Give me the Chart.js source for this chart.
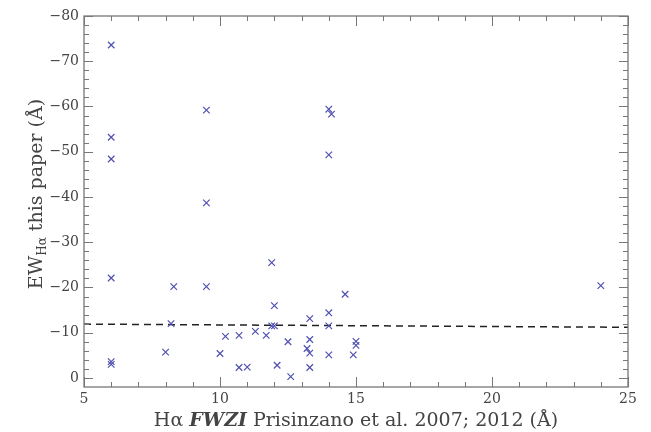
<!DOCTYPE html>
<html>
<head>
<meta charset="utf-8">
<script src="https://cdn.jsdelivr.net/npm/chart.js@4"></script>
<style>
  html, body { margin: 0; padding: 0; background: #fff; }
  #wrap { width: 651px; height: 432px; }
</style>
</head>
<body>
<div id="wrap"><canvas id="ewChart"></canvas></div>
<script>
// FWZI from Prisinzano et al. (x) vs EW Halpha this paper (y)
const fwzi = [6, 6, 6, 6, 6, 6, 9.5, 9.5, 9.5, 14, 14, 14.1,
  8, 8.2, 8.3, 10, 10.2, 10.7, 10.7, 11, 11.3, 11.7, 11.9, 11.9, 12, 12, 12.1,
  12.5, 12.6, 13.2, 13.3, 13.3, 13.3, 13.3, 14, 14, 14, 14.6, 14.9, 15, 15, 24];
const ewHa = [-73.6, -53.2, -48.4, -22.1, -3.6, -3.0, -59.2, -38.7, -20.2, -59.4, -49.3, -58.3,
  -5.7, -12.0, -20.2, -5.4, -9.2, -9.4, -2.3, -2.4, -10.3, -9.4, -25.5, -11.5, -11.5, -16.0, -2.8,
  -8.0, -0.3, -6.5, -13.1, -8.5, -5.5, -2.3, -14.4, -11.5, -5.1, -18.5, -5.1, -8.1, -7.2, -20.4];
// dashed fit line end points
const fitX = [5, 25];
const fitY = [-11.9, -11.2];

const xTicks = [5, 10, 15, 20, 25];
const yTicks = [-80, -70, -60, -50, -40, -30, -20, -10, 0];

const serif = '"DejaVu Serif", "Liberation Serif", serif';

// inward ticks on all four sides + frame + mixed-style axis titles
const framePlugin = {
    id: 'frame',
    afterDraw(chart) {
        const ctx = chart.ctx;
        const a = chart.chartArea;
        const xs = chart.scales.x, ys = chart.scales.y;
        ctx.save();
        ctx.strokeStyle = '#777';
        ctx.lineWidth = 1.3;
        ctx.strokeRect(a.left, a.top, a.right - a.left, a.bottom - a.top);
        ctx.lineWidth = 1;
        ctx.beginPath();
        for (let v = 5; v <= 25; v += 1) {
            const px = Math.round(xs.getPixelForValue(v)) + 0.5;
            const len = (v % 5 === 0) ? 10 : 5;
            ctx.moveTo(px, a.bottom); ctx.lineTo(px, a.bottom - len);
            ctx.moveTo(px, a.top); ctx.lineTo(px, a.top + len);
        }
        for (let v = -80; v <= 0; v += 2) {
            const py = Math.round(ys.getPixelForValue(v)) + 0.5;
            const len = (v % 10 === 0) ? 9 : 5;
            ctx.moveTo(a.left, py); ctx.lineTo(a.left + len, py);
            ctx.moveTo(a.right, py); ctx.lineTo(a.right - len, py);
        }
        ctx.stroke();

        // x title
        ctx.fillStyle = '#444';
        ctx.textBaseline = 'alphabetic';
        const parts = [
            ['Hα ', '19px ' + serif],
            ['FWZI', 'italic bold 19px ' + serif],
            [' Prisinzano et al. 2007; 2012 (Å)', '19px ' + serif]
        ];
        let w = 0;
        parts.forEach(p => { ctx.font = p[1]; w += ctx.measureText(p[0]).width; });
        let x = (a.left + a.right) / 2 - w / 2;
        parts.forEach(p => { ctx.font = p[1]; ctx.fillText(p[0], x, 426); x += ctx.measureText(p[0]).width; });

        // y title (rotated)
        ctx.save();
        ctx.translate(42, 194);
        ctx.rotate(-Math.PI / 2);
        const yparts = [
            ['EW', '19px ' + serif, 0],
            ['Hα', '12px ' + serif, 4],
            [' this paper (Å)', '19px ' + serif, 0]
        ];
        w = 0;
        yparts.forEach(p => { ctx.font = p[1]; w += ctx.measureText(p[0]).width; });
        x = -w / 2;
        yparts.forEach(p => { ctx.font = p[1]; ctx.fillText(p[0], x, p[2]); x += ctx.measureText(p[0]).width; });
        ctx.restore();
        ctx.restore();
    }
};

const ctx = document.getElementById('ewChart').getContext('2d');
const chart = new Chart(ctx, {
    type: 'scatter',
    data: {
        datasets: [{
            label: 'EW',
            data: fwzi.map((v, i) => ({ x: v, y: ewHa[i] })),
            pointStyle: 'crossRot',
            pointRadius: 4.6,
            pointBorderWidth: 1.2,
            borderColor: '#5050b0',
            backgroundColor: '#5050b0'
        },
        {
            label: 'fit',
            data: fitX.map((v, i) => ({ x: v, y: fitY[i] })),
            showLine: true,
            pointRadius: 0,
            borderColor: '#222',
            borderWidth: 1.5,
            borderDash: [7, 5]
        }]
    },
    options: {
        responsive: true,
        maintainAspectRatio: false,
        animation: false,
        layout: { padding: { left: 0, right: 23, top: 16, bottom: 0 } },
        plugins: {
            legend: { display: false },
            tooltip: { enabled: false }
        },
        scales: {
            x: {
                type: 'linear',
                min: 5,
                max: 25,
                grid: { display: false, drawTicks: false },
                border: { display: false },
                afterBuildTicks: s => { s.ticks = xTicks.map(v => ({ value: v })); },
                afterFit: s => { s.height = 45; },
                ticks: {
                    padding: 4,
                    color: '#444',
                    font: { family: serif, size: 14 }
                }
            },
            y: {
                type: 'linear',
                reverse: true,
                min: -80,
                max: 2,
                grid: { display: false, drawTicks: false },
                border: { display: false },
                afterBuildTicks: s => { s.ticks = yTicks.map(v => ({ value: v })); },
                afterFit: s => { s.width = 84; },
                ticks: {
                    padding: 5,
                    color: '#444',
                    font: { family: serif, size: 14 },
                    callback: v => v < 0 ? '\u2212' + Math.abs(v) : String(v)
                }
            }
        }
    },
    plugins: [framePlugin]
});
</script>
</body>
</html>
